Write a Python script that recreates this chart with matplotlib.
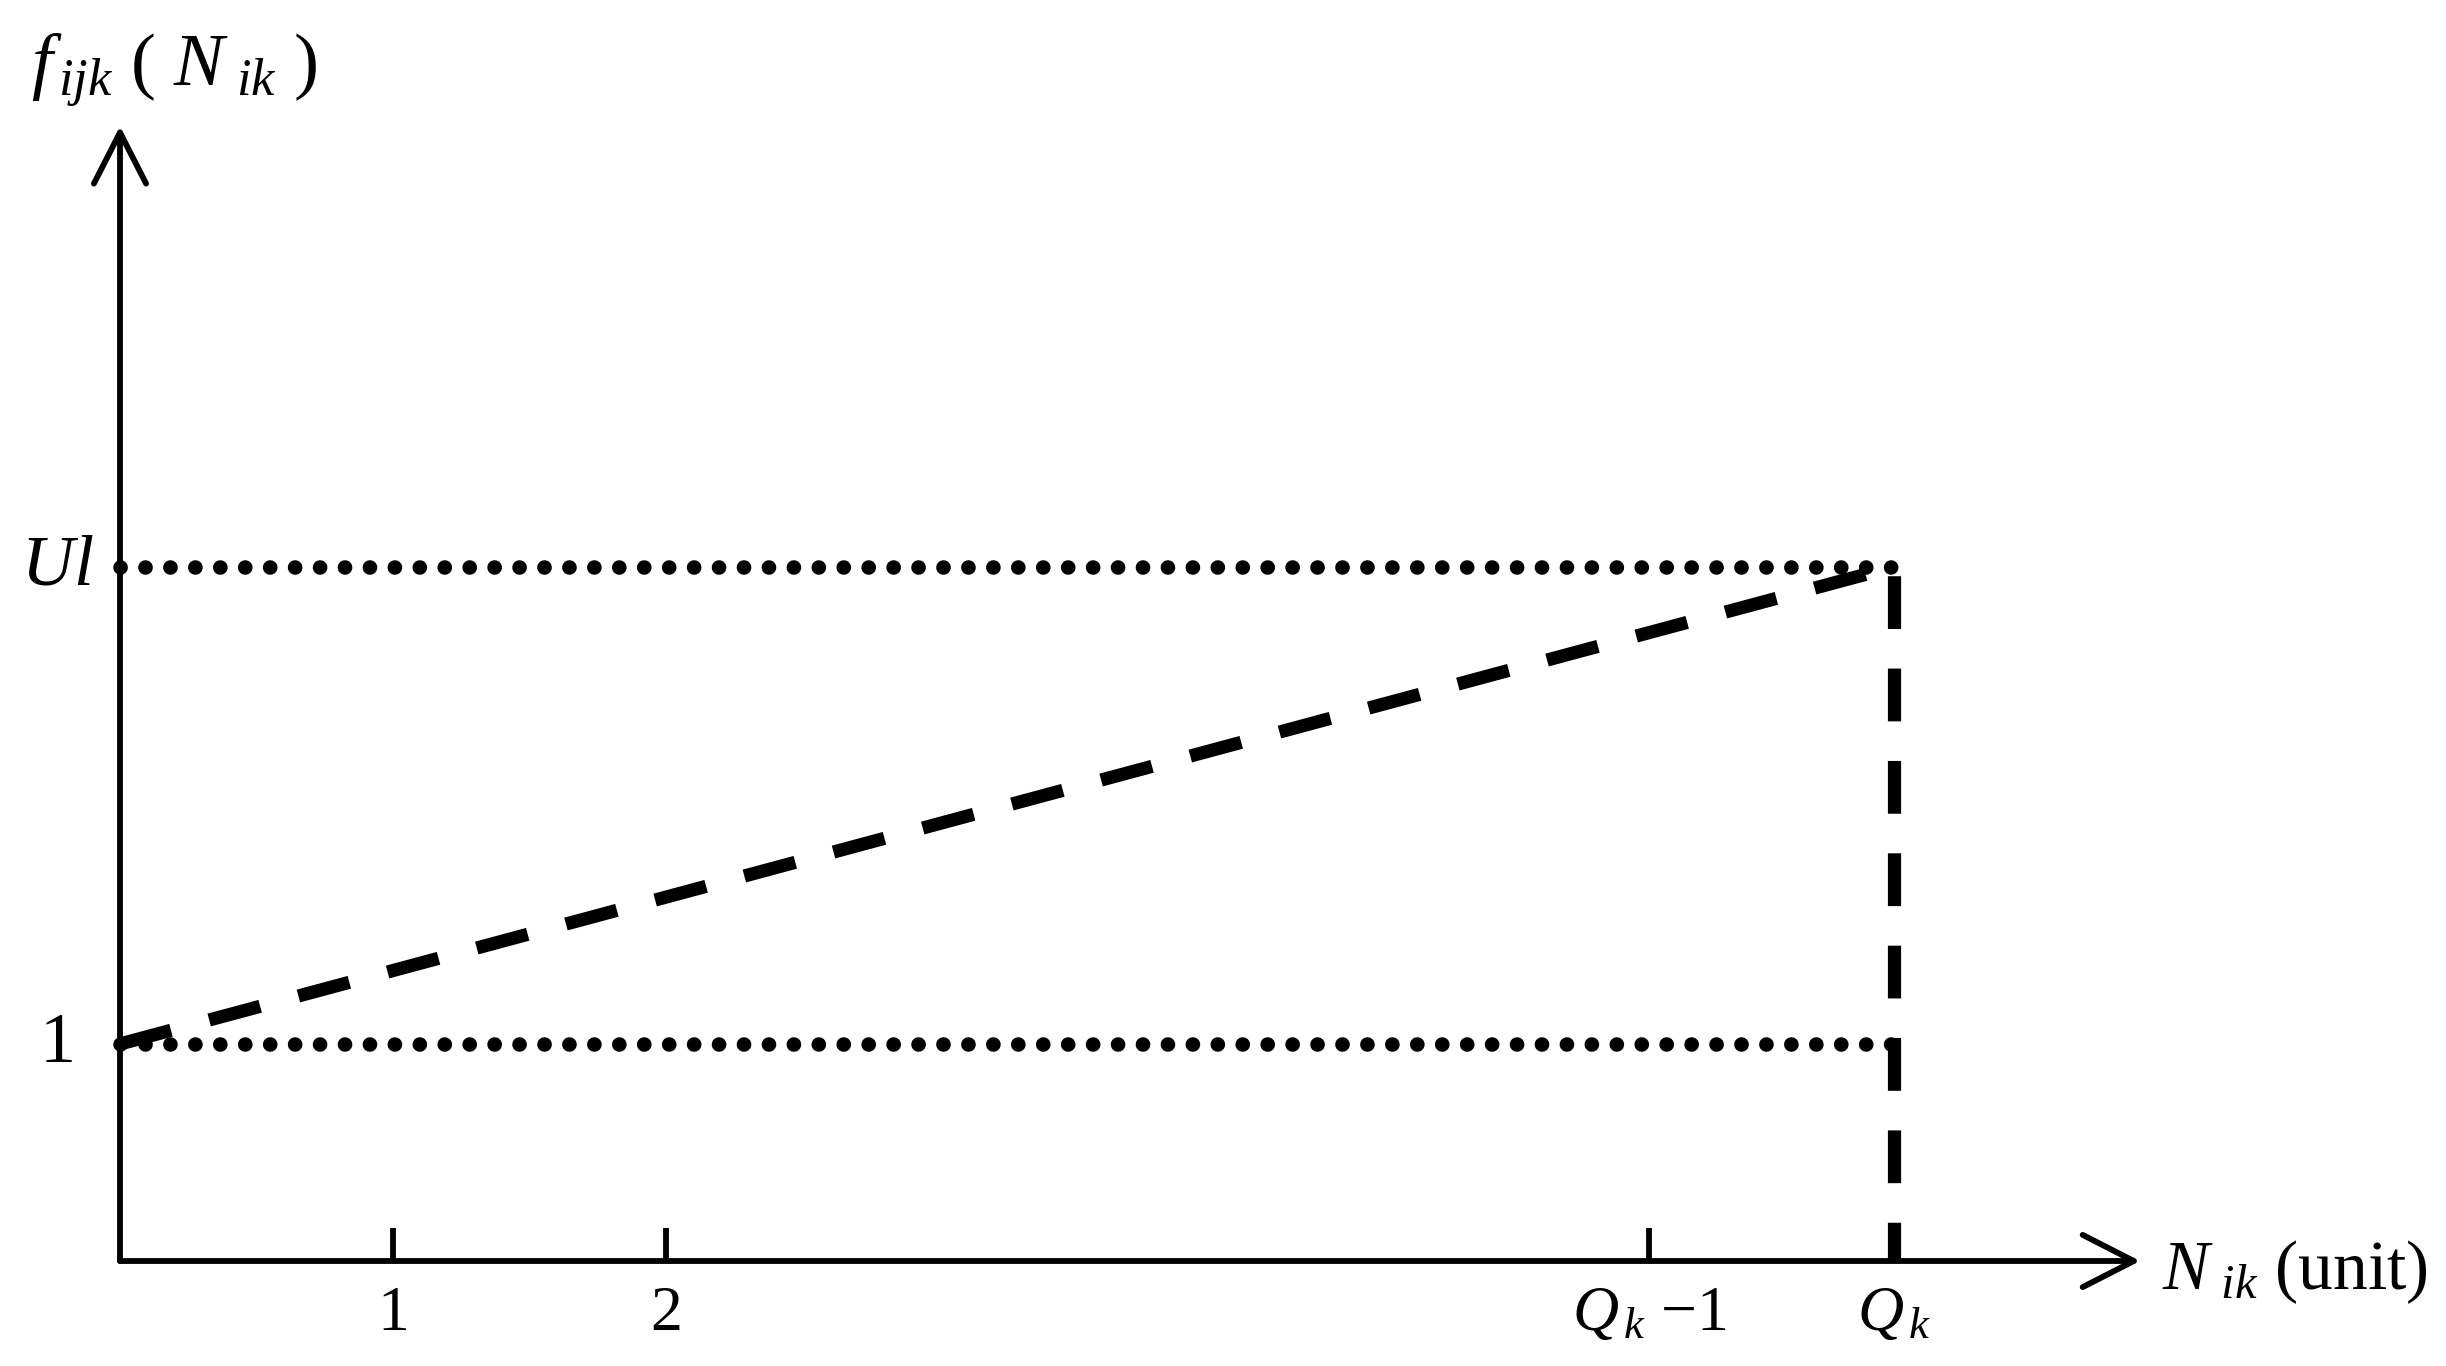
import matplotlib
matplotlib.use("Agg")
import matplotlib.pyplot as plt

plt.rcParams['font.family'] = 'Liberation Serif'
plt.rcParams['mathtext.fontset'] = 'custom'
plt.rcParams['mathtext.rm'] = 'Liberation Serif'
plt.rcParams['mathtext.it'] = 'Liberation Serif:italic'
plt.rcParams['mathtext.bf'] = 'Liberation Serif:bold'

# schematic values
Q_k = 6.5          # position of Q_k on the x axis
Ul = 3.2           # upper level
f_start = 1.0      # value of f at N = 0
x_tick_pos = [1, 2, 5.6, 6.5]
x_tick_labels = ['1', '2', r'$Q_{\,k}\ {-1}$', r'$Q_{\,k}$']
y_levels = [1.0, 3.2]
y_labels = ['1', r'$Ul$']
x_end = 7.4
y_end = 5.23

fig = plt.figure(figsize=(24.46, 13.66), dpi=100)
ax = fig.add_axes([0, 0, 1, 1])
ax.set_xlim(-120 / 273, (2446 - 120) / 273)
ax.set_ylim(-105 / 217, 1261 / 217)
ax.axis('off')

# axes with open arrow heads
arrow = dict(arrowstyle='->,head_length=1.84,head_width=0.94', lw=4.2,
             color='black', mutation_scale=20, shrinkA=0, shrinkB=0)
ax.annotate('', xy=(x_end, 0), xytext=(0, 0), arrowprops=arrow)
ax.annotate('', xy=(0, y_end), xytext=(0, 0), arrowprops=arrow)

# tick marks on x axis
ax.vlines(x_tick_pos, 0, 0.15, color='black', lw=4.2)

# dotted reference levels
for lvl in y_levels:
    ax.plot([0, Q_k], [lvl, lvl], color='black', lw=10.5,
            linestyle=(0, (0.01, 1.7)), dash_capstyle='round', zorder=2)

# dashed function line and vertical drop at Q_k
ax.plot([0, Q_k, Q_k], [f_start, Ul, 0], color='black', lw=9.5,
        linestyle=(0, (4, 3)), zorder=3)

# labels
for x, lab in zip(x_tick_pos, x_tick_labels):
    ax.text(x, -0.25, lab, ha='center', va='center', fontsize=46)
for y, lab in zip(y_levels, y_labels):
    ax.text(-0.23, y, lab, ha='center', va='center', fontsize=52)

ax.text(0.2, 5.49, r'$f_{\,ijk}\ (\ N_{\ ik}\ )$', ha='center', va='center',
        fontsize=54)
ax.text(7.48, -0.05, r'$N_{\ ik}$ (unit)', ha='left', va='center',
        fontsize=50)

plt.savefig('out.png', dpi=100)
